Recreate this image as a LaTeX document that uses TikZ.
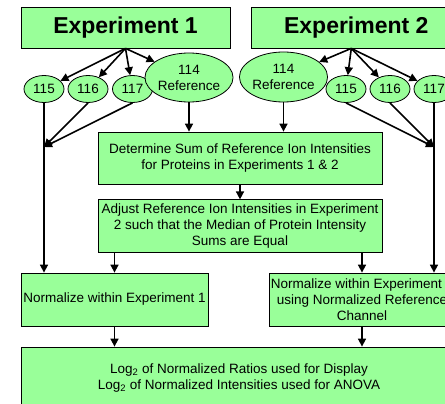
\documentclass[tikz,border=0pt]{standalone}
\usepackage{fontspec}
\setmainfont{Liberation Sans}
\usepackage{tikz}
\usetikzlibrary{arrows.meta,positioning,shapes.geometric}
\definecolor{lightgreen}{HTML}{99FF99}
\tikzset{
  exptbox/.style={
    rectangle, draw=black, fill=lightgreen, line width=0.8pt,
    minimum width=209pt, minimum height=41pt,
    font=\fontsize{23}{27}\selectfont\bfseries, inner sep=0pt
  },
  chanoval/.style={
    ellipse, draw=black, fill=lightgreen, line width=0.8pt,
    minimum width=40pt, minimum height=27pt, inner sep=0pt,
    font=\fontsize{13.5}{16}\selectfont, align=center
  },
  stepbox/.style={
    rectangle, draw=black, fill=lightgreen, line width=0.8pt,
    minimum width=#1, minimum height=53pt, inner sep=0pt,
    font=\fontsize{13.5}{16}\selectfont, align=center
  },
  stepbox/.default=284pt,
  flowarrow/.style={
    -{Triangle[length=8pt,width=8pt]}, line width=1.6pt, color=black
  },
}

\begin{document}
\begin{tikzpicture}[x=1pt, y=-1pt]
  \useasboundingbox (0,0) rectangle (445,404);
  \clip (0,0) rectangle (445,404);

  % Experiments
  \node[exptbox] (exp1) at (125.5,27.5) {Experiment 1};
  \node[exptbox, right=21pt of exp1] (exp2) {Experiment 2};

  % Reporter channels, experiment 1
  \node[chanoval] (ch115a) at (44,89) {115};
  \node[chanoval] (ch116a) at (88,89) {116};
  \node[chanoval] (ch117a) at (132.5,89) {117};
  \node[chanoval, minimum width=70pt, minimum height=49pt]
    (ref1) at (189,77.5) {114\\Reference};

  % Reporter channels, experiment 2
  \node[chanoval, minimum width=75pt, minimum height=50pt]
    (ref2) at (283.5,77) {114\\Reference};
  \node[chanoval] (ch115b) at (346,89) {115};
  \node[chanoval] (ch116b) at (390,89) {116};
  \node[chanoval] (ch117b) at (434,89) {117};

  % Processing steps
  \node[stepbox, minimum height=52pt] (sum) at (240,158)
    {Determine Sum of Reference Ion Intensities\\for Proteins in Experiments 1 \& 2};
  \node[stepbox, below=15pt of sum] (adjust)
    {Adjust Reference Ion Intensities in Experiment\\2 such that the Median of Protein Intensity\\Sums are Equal};
  \node[stepbox=187pt] (norm1) at (114.5,299.5) {Normalize within Experiment 1};
  \node[stepbox=186pt] (norm2) at (362,299.5)
    {Normalize within Experiment 2\\using Normalized Reference\\Channel};
  \node[stepbox=436pt, minimum height=62pt] (logs) at (239,378)
    {Log\textsubscript{2} of Normalized Ratios used for Display\\
     Log\textsubscript{2} of Normalized Intensities used for ANOVA};

  \coordinate (join1) at (ch115a.south |- 0,147);
  \coordinate (join2) at (ch117b.south |- 0,147);

  \draw[flowarrow] (exp1.south) -- (ch115a);
  \draw[flowarrow] (exp1.south) -- (ch116a);
  \draw[flowarrow] (exp1.south) -- (ch117a);
  \draw[flowarrow] (exp1.south) -- (ref1);
  \draw[flowarrow] ([xshift=-5pt]exp2.south) -- (ref2);
  \draw[flowarrow] ([xshift=-5pt]exp2.south) -- (ch115b);
  \draw[flowarrow] ([xshift=-5pt]exp2.south) -- (ch116b);
  \draw[flowarrow] ([xshift=-5pt]exp2.south) -- (ch117b);

  \draw[flowarrow] (ch116a.south) -- (join1);
  \draw[flowarrow] (ch117a.south) -- (join1);
  \draw[flowarrow] (ch115b.south) -- (join2);
  \draw[flowarrow] (ch116b.south) -- (join2);

  \draw[flowarrow] (ch115a.south) -- (ch115a.south |- norm1.north);
  \draw[flowarrow] (ch117b.south) -- (ch117b.south |- norm2.north);
  \draw[flowarrow] (ref1.south) -- (ref1.south |- sum.north);
  \draw[flowarrow] (ref2.south) -- (ref2.south |- sum.north);
  \draw[flowarrow] (sum) -- (adjust);
  \draw[flowarrow] (norm1.north |- adjust.south) -- (norm1.north);
  \draw[flowarrow] (norm2.north |- adjust.south) -- (norm2.north);
  \draw[flowarrow] (norm1) -- (norm1.south |- logs.north);
  \draw[flowarrow] (norm2) -- (norm2.south |- logs.north);
\end{tikzpicture}
\end{document}
